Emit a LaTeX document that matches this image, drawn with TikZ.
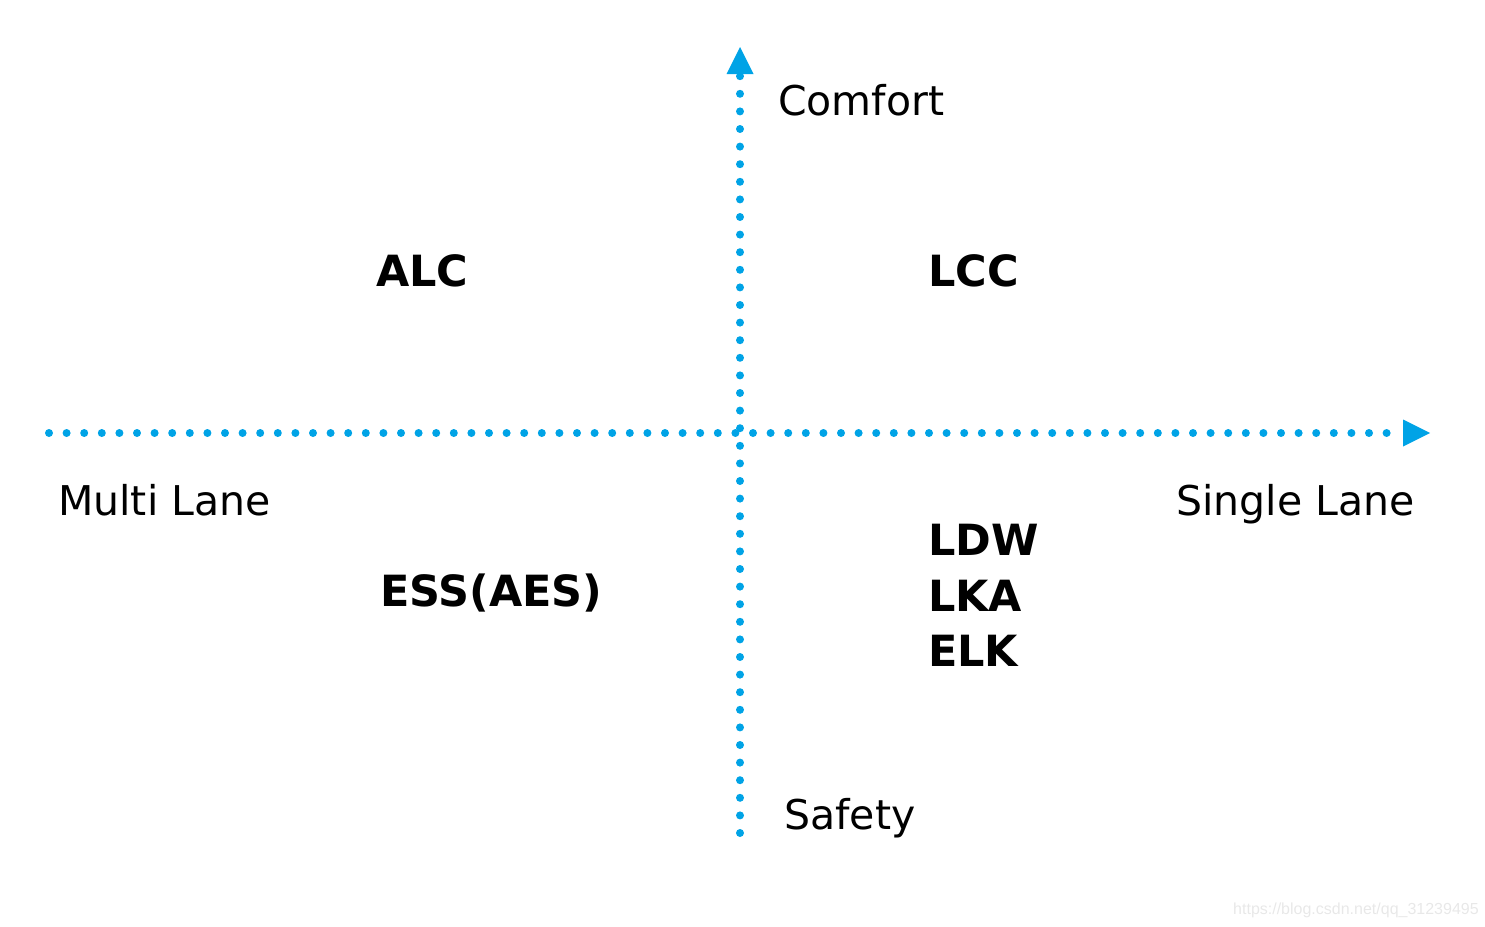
\documentclass[tikz,border=0pt]{standalone}
\usepackage{fontspec}
\setmainfont{DejaVu Sans}
\newfontfamily\wmfont{Liberation Sans}
\usetikzlibrary{arrows.meta}
\definecolor{axisblue}{RGB}{0,163,230}
\definecolor{wmgray}{RGB}{232,232,232}
\tikzset{
  axisline/.style={axisblue, line width=8pt, line cap=round,
    dash pattern=on 0pt off 17.6pt,
    -{Triangle[length=27pt,width=27pt,line width=0pt]}},
  lbl/.style={anchor=base west, inner sep=0pt, font=\fontsize{41}{50}\selectfont},
  blbl/.style={anchor=base west, inner sep=0pt, font=\fontsize{43}{50}\selectfont\bfseries},
  wm/.style={anchor=base west, inner sep=0pt, text=wmgray, font=\wmfont\fontsize{16}{18}\selectfont}
}
\begin{document}
\begin{tikzpicture}[x=1pt,y=-1pt]
\useasboundingbox (0,0) rectangle (1485,926);
\coordinate (xl) at (49,433);
\coordinate (xr) at (1430,433);
\coordinate (yb) at (740,833);
\coordinate (yt) at (740,47);
\draw[axisline] (xl) -- (xr);
\draw[axisline] (yb) -- (yt);
\node[lbl] (comfort) at (778,115) {Comfort};
\node[lbl] (safety) at (784,829) {Safety};
\node[lbl] (multi) at (58,515) {Multi Lane};
\node[lbl] (single) at (1176,515) {Single Lane};
\node[blbl] (alc) at (376,286) {ALC};
\node[blbl] (lcc) at (928,286) {LCC};
\node[blbl] (ess) at (380,606) {ESS(AES)};
\node[blbl] (ldw) at (928,555) {LDW};
\node[blbl] (lka) at (928,611) {LKA};
\node[blbl] (elk) at (928,666) {ELK};
\node[wm] (mark) at (1233,914) {https://blog.csdn.net/qq\_31239495};
\end{tikzpicture}
\end{document}
